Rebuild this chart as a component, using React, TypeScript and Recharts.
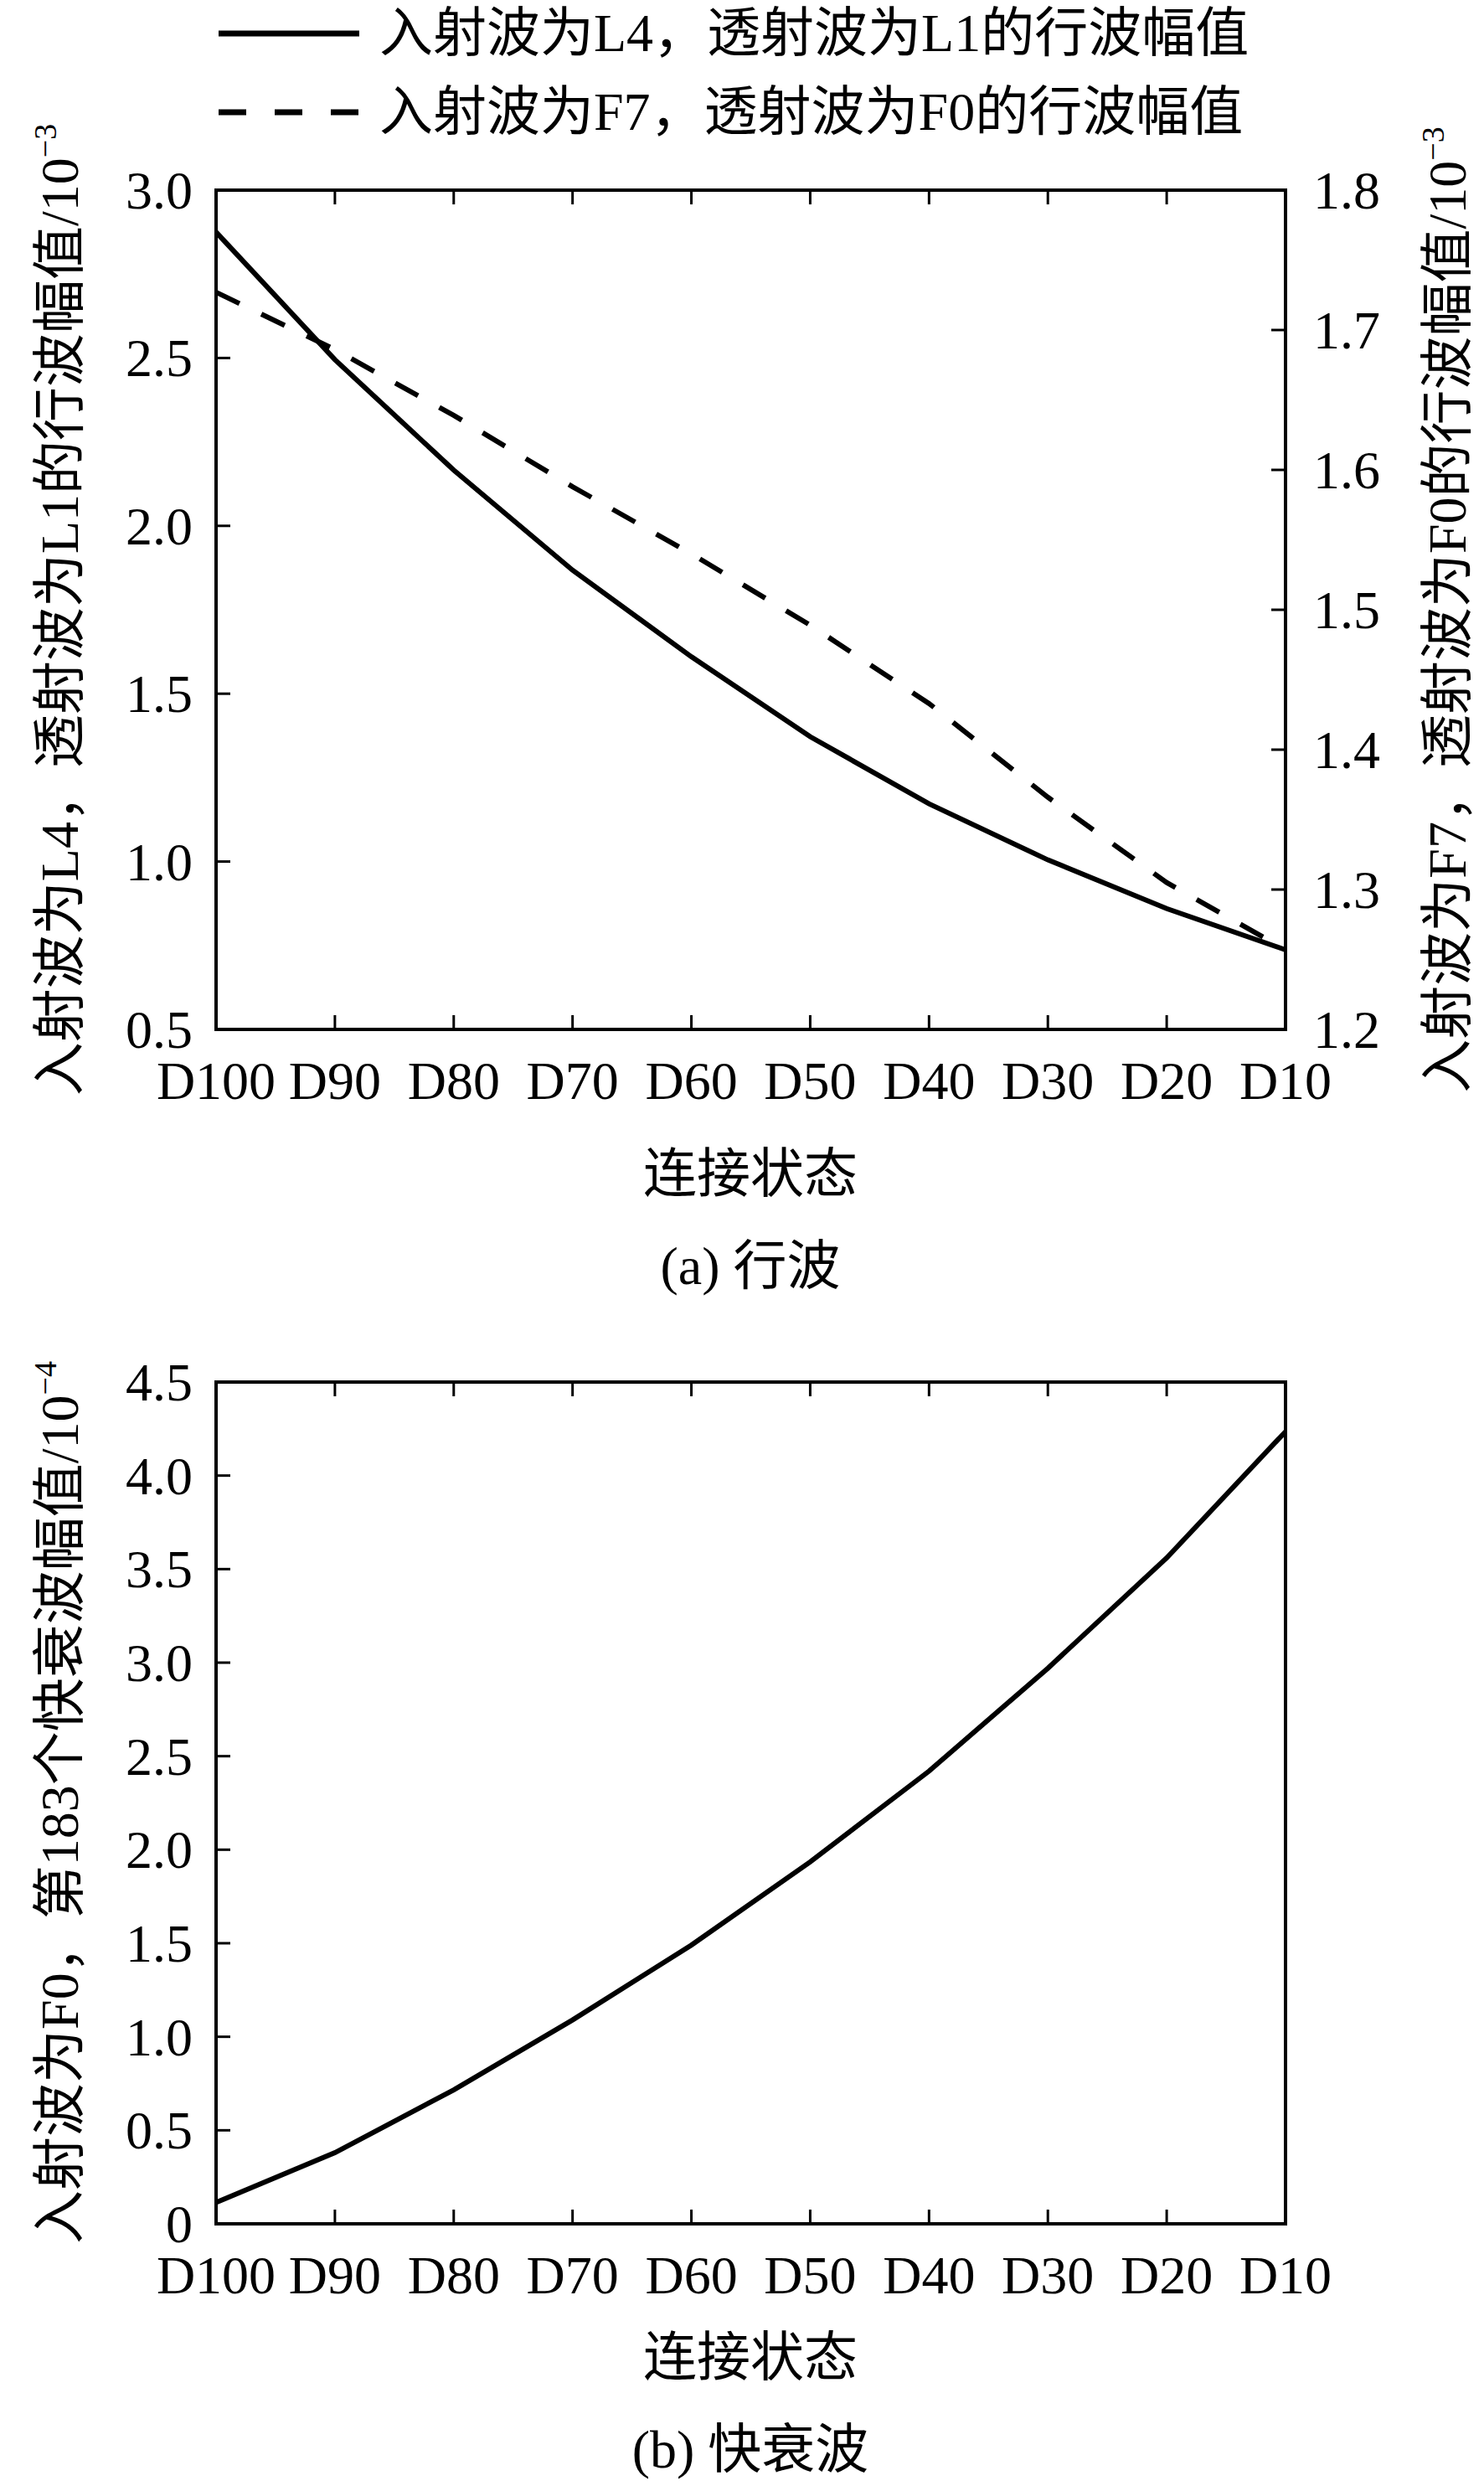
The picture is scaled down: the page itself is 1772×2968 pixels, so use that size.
import React from "react";
import { LineChart, Line, XAxis, YAxis } from "recharts";

// connection states along the x axis
const categories = ["D100", "D90", "D80", "D70", "D60", "D50", "D40", "D30", "D20", "D10"];

// (a) travelling wave amplitudes, x10^-3
const l1Amplitude = [2.875, 2.495, 2.166, 1.868, 1.61, 1.372, 1.172, 1.005, 0.86, 0.737];
const f0Amplitude = [1.727, 1.686, 1.639, 1.588, 1.54, 1.489, 1.433, 1.366, 1.305, 1.257];

// (b) 183rd evanescent wave amplitude, x10^-4
const fastAmplitude = [0.114, 0.38, 0.716, 1.09, 1.49, 1.935, 2.42, 2.97, 3.56, 4.235];

const leftTicksA = [0.5, 1.0, 1.5, 2.0, 2.5, 3.0];
const rightTicksA = [1.2, 1.3, 1.4, 1.5, 1.6, 1.7, 1.8];
const ticksB = [0, 0.5, 1.0, 1.5, 2.0, 2.5, 3.0, 3.5, 4.0, 4.5];

const dataA = categories.map((cat, i) => ({ cat, l1: l1Amplitude[i], f0: f0Amplitude[i] }));
const dataB = categories.map((cat, i) => ({ cat, fast: fastAmplitude[i] }));

const SERIF = "'Liberation Serif', 'Times New Roman', 'Noto Sans CJK SC', serif";
const FS = 64;
const TICK_LEN = 17;
const AXIS = { stroke: "#000", strokeWidth: 4, strokeLinecap: "square" as const };

// plot box (chart-local coordinates)
const LEFT = 258;
const RIGHT = 1535;
const A_TOP = 227;
const A_BOTTOM = 1229;
const B_TOP = 90;
const B_BOTTOM = 1095;

const fmt = (v: number) => (v === 0 ? "0" : v.toFixed(1));

// inward tick on a horizontal axis, optional label below
function xTick(axisY: number, dir: number, label: boolean) {
  return (props: any) => {
    const { x, payload } = props;
    return (
      <g>
        <line x1={x} x2={x} y1={axisY} y2={axisY + dir * TICK_LEN} stroke="#000" strokeWidth={3} />
        {label && (
          <text x={x} y={axisY + 83} textAnchor="middle" fontFamily={SERIF} fontSize={FS} fill="#000">
            {payload.value}
          </text>
        )}
      </g>
    );
  };
}

// inward tick on a vertical axis, label on the given side
function yTick(axisX: number, side: "left" | "right", label: boolean) {
  return (props: any) => {
    const { y, payload } = props;
    const dir = side === "left" ? 1 : -1;
    return (
      <g>
        <line x1={axisX} x2={axisX + dir * TICK_LEN} y1={y} y2={y} stroke="#000" strokeWidth={3} />
        {label && (
          <text
            x={side === "left" ? axisX - 28 : axisX + 33}
            y={y + 22}
            textAnchor={side === "left" ? "end" : "start"}
            fontFamily={SERIF}
            fontSize={FS}
            fill="#000"
          >
            {fmt(payload.value)}
          </text>
        )}
      </g>
    );
  };
}

const textStyle: React.CSSProperties = {
  position: "absolute",
  fontFamily: SERIF,
  fontSize: FS,
  lineHeight: 1,
  whiteSpace: "nowrap",
  color: "#000",
};

function Centered({ x, y, rotate, children }: { x: number; y: number; rotate?: boolean; children: React.ReactNode }) {
  return (
    <div
      style={{
        ...textStyle,
        left: x,
        top: y,
        transform: `translate(-50%, -50%)${rotate ? " rotate(-90deg)" : ""}`,
      }}
    >
      {children}
    </div>
  );
}

const Sup = ({ children }: { children: React.ReactNode }) => (
  <span style={{ fontSize: 38, position: "relative", top: -26 }}>{children}</span>
);

function LegendRow({ y, dashed, label }: { y: number; dashed?: boolean; label: string }) {
  return (
    <>
      <svg style={{ position: "absolute", left: 261, top: y - 6 }} width={170} height={12}>
        <line x1={0} x2={168} y1={6} y2={6} stroke="#000" strokeWidth={7} strokeDasharray={dashed ? "33 34" : undefined} />
      </svg>
      <div style={{ ...textStyle, left: 453, top: y, transform: "translateY(-50%)" }}>{label}</div>
    </>
  );
}

export default function App() {
  return (
    <div style={{ position: "absolute", left: 0, top: 0, width: 1772, height: 2968, background: "#fff" }}>
      <LegendRow y={40} label="入射波为L4，透射波为L1的行波幅值" />
      <LegendRow y={134} dashed label="入射波为F7，透射波为F0的行波幅值" />

      <div style={{ position: "absolute", left: 0, top: 0 }}>
        <LineChart
          width={1772}
          height={1560}
          data={dataA}
          margin={{ top: A_TOP - 10, bottom: 1560 - A_BOTTOM - 10, left: LEFT - 10, right: 1772 - RIGHT - 10 }}
        >
          <XAxis dataKey="cat" height={10} interval={0} axisLine={AXIS} tickLine={false} tick={xTick(A_BOTTOM, -1, true)} />
          <XAxis xAxisId="top" dataKey="cat" orientation="top" height={10} interval={0} axisLine={AXIS} tickLine={false} tick={xTick(A_TOP, 1, false)} />
          <YAxis yAxisId="left" width={10} domain={[0.5, 3.0]} ticks={leftTicksA} interval={0} axisLine={AXIS} tickLine={false} tick={yTick(LEFT, "left", true)} />
          <YAxis yAxisId="right" orientation="right" width={10} domain={[1.2, 1.8]} ticks={rightTicksA} interval={0} axisLine={AXIS} tickLine={false} tick={yTick(RIGHT, "right", true)} />
          <Line yAxisId="left" dataKey="l1" type="linear" stroke="#000" strokeWidth={6} dot={false} isAnimationActive={false} />
          <Line yAxisId="right" dataKey="f0" type="linear" stroke="#000" strokeWidth={6} strokeDasharray="31 29" dot={false} isAnimationActive={false} />
        </LineChart>
      </div>

      <Centered x={72} y={728} rotate>
        入射波为L4，透射波为L1的行波幅值/10<Sup>−3</Sup>
      </Centered>
      <Centered x={1729} y={728} rotate>
        入射波为F7，透射波为F0的行波幅值/10<Sup>−3</Sup>
      </Centered>
      <Centered x={896} y={1402}>连接状态</Centered>
      <Centered x={896} y={1512}>(a) 行波</Centered>

      <div style={{ position: "absolute", left: 0, top: 1560 }}>
        <LineChart
          width={1772}
          height={1408}
          data={dataB}
          margin={{ top: B_TOP - 10, bottom: 1408 - B_BOTTOM - 10, left: LEFT - 10, right: 1772 - RIGHT - 10 }}
        >
          <XAxis dataKey="cat" height={10} interval={0} axisLine={AXIS} tickLine={false} tick={xTick(B_BOTTOM, -1, true)} />
          <XAxis xAxisId="top" dataKey="cat" orientation="top" height={10} interval={0} axisLine={AXIS} tickLine={false} tick={xTick(B_TOP, 1, false)} />
          <YAxis yAxisId="left" width={10} domain={[0, 4.5]} ticks={ticksB} interval={0} axisLine={AXIS} tickLine={false} tick={yTick(LEFT, "left", true)} />
          <YAxis yAxisId="right" orientation="right" width={10} domain={[0, 4.5]} ticks={ticksB} interval={0} axisLine={AXIS} tickLine={false} tick={yTick(RIGHT, "right", false)} />
          <Line yAxisId="left" dataKey="fast" type="linear" stroke="#000" strokeWidth={6} dot={false} isAnimationActive={false} />
        </LineChart>
      </div>

      <Centered x={72} y={2152} rotate>
        入射波为F0，第183个快衰波幅值/10<Sup>−4</Sup>
      </Centered>
      <Centered x={896} y={2815}>连接状态</Centered>
      <Centered x={896} y={2925}>(b) 快衰波</Centered>
    </div>
  );
}
